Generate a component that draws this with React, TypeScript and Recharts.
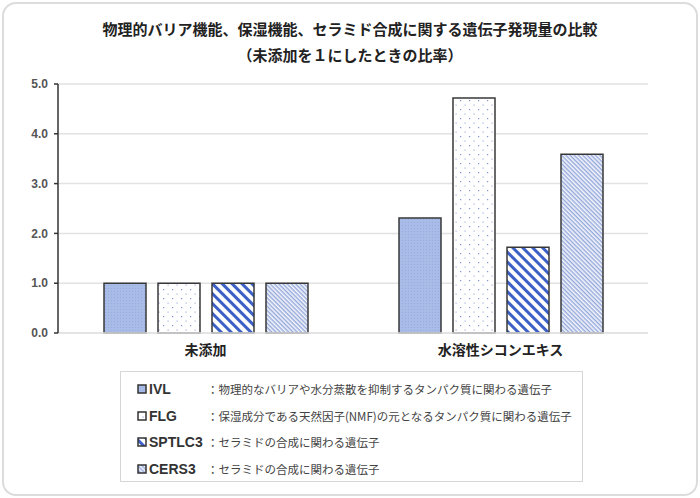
import { BarChart, Bar, XAxis, YAxis, CartesianGrid } from "recharts";

const categories = ["未添加", "水溶性シコンエキス"];
const genes = ["IVL", "FLG", "SPTLC3", "CERS3"];
const ivlValues = [1.0, 2.31];
const flgValues = [1.0, 4.72];
const sptlc3Values = [1.0, 1.72];
const cers3Values = [1.0, 3.59];
const descriptions = [
  "物理的なバリアや水分蒸散を抑制するタンパク質に関わる遺伝子",
  "保湿成分である天然因子(NMF)の元となるタンパク質に関わる遺伝子",
  "セラミドの合成に関わる遺伝子",
  "セラミドの合成に関わる遺伝子",
];
const yTicks = [0, 1, 2, 3, 4, 5];

const patternIds = ["pat-ivl", "pat-flg", "pat-sptlc3", "pat-cers3"];

const chartData = categories.map((name, i) => ({
  name,
  IVL: ivlValues[i],
  FLG: flgValues[i],
  SPTLC3: sptlc3Values[i],
  CERS3: cers3Values[i],
}));

const FONT = '"Noto Sans CJK JP", "Noto Sans", sans-serif';

function Patterns() {
  return (
    <defs>
      <pattern id="pat-ivl" width="3" height="3" patternUnits="userSpaceOnUse">
        <rect width="3" height="3" fill="#a9bce7" />
        <rect x="0" y="0" width="1" height="1" fill="#98addf" />
      </pattern>
      <pattern id="pat-flg" width="9" height="9" patternUnits="userSpaceOnUse">
        <rect width="9" height="9" fill="#ffffff" />
        <rect x="1" y="1" width="1.2" height="1.2" fill="#7f95d4" />
        <rect x="5.5" y="5.5" width="1.2" height="1.2" fill="#a3b2dd" />
      </pattern>
      <pattern
        id="pat-sptlc3"
        width="7"
        height="7"
        patternUnits="userSpaceOnUse"
        patternTransform="rotate(45)"
      >
        <rect width="7" height="7" fill="#ffffff" />
        <rect x="0" y="0" width="7" height="3" fill="#3c60c6" />
      </pattern>
      <pattern
        id="pat-cers3"
        width="3"
        height="3"
        patternUnits="userSpaceOnUse"
        patternTransform="rotate(45)"
      >
        <rect width="3" height="3" fill="#f4f6fb" />
        <rect x="0" y="0" width="3" height="1.4" fill="#94a8dc" />
      </pattern>
    </defs>
  );
}

export default function App() {
  return (
    <div
      style={{
        position: "absolute",
        left: 0,
        top: 0,
        width: 700,
        height: 498,
        background: "#ffffff",
        fontFamily: FONT,
      }}
    >
      {/* card border */}
      <div
        style={{
          position: "absolute",
          left: 2,
          top: 2,
          width: 692,
          height: 490,
          border: "2px solid #dcdcdc",
          borderRadius: 14,
        }}
      />
      <div
        style={{
          position: "absolute",
          left: 0,
          top: 16,
          width: 700,
          textAlign: "center",
          fontSize: 15,
          fontWeight: 700,
          color: "#222",
          lineHeight: "26px",
        }}
      >
        <div>物理的バリア機能、保湿機能、セラミド合成に関する遺伝子発現量の比較</div>
        <div>（未添加を１にしたときの比率）</div>
      </div>

      <div style={{ position: "absolute", left: 0, top: 0 }}>
        <BarChart
          width={700}
          height={498}
          data={chartData}
          margin={{ top: 84, right: 52, bottom: 135, left: 0 }}
          barCategoryGap={46}
          barGap={12}
        >
          <Patterns />
          <CartesianGrid vertical={false} stroke="#e2e2e2" strokeWidth={1.5} />
          <XAxis
            dataKey="name"
            height={30}
            axisLine={{ stroke: "#e2e2e2", strokeWidth: 1.5 }}
            tickLine={false}
            tickMargin={6}
            tick={{ fontSize: 14, fontWeight: 700, fill: "#222", fontFamily: FONT }}
          />
          <YAxis
            width={58}
            domain={[0, 5]}
            ticks={yTicks}
            interval={0}
            tickFormatter={(v: number) => v.toFixed(1)}
            axisLine={{ stroke: "#333", strokeWidth: 1.5 }}
            tickLine={{ stroke: "#333", strokeWidth: 1.5 }}
            tickSize={4}
            tickMargin={6}
            tick={{ fontSize: 12, fontWeight: 700, fill: "#555", fontFamily: "Liberation Sans, Arial, sans-serif" }}
          />
          {genes.map((g, i) => (
            <Bar
              key={g}
              dataKey={g}
              fill={`url(#${patternIds[i]})`}
              stroke="#383838"
              strokeWidth={1.5}
              isAnimationActive={false}
            />
          ))}
        </BarChart>
      </div>

      {/* legend */}
      <div
        style={{
          position: "absolute",
          left: 120,
          top: 371,
          width: 461,
          height: 109,
          border: "1.5px solid #d6d6d6",
          background: "#fff",
        }}
      >
        {genes.map((g, i) => (
          <div
            key={g}
            style={{
              position: "absolute",
              left: 16,
              top: 5 + i * 26.5,
              height: 24,
              display: "flex",
              alignItems: "center",
              whiteSpace: "nowrap",
            }}
          >
            <svg width={10} height={10} style={{ marginRight: 2 }}>
              <Patterns />
              <rect
                x={1}
                y={1}
                width={8}
                height={8}
                fill={`url(#${patternIds[i]})`}
                stroke="#333"
                strokeWidth={1.5}
              />
            </svg>
            <span
              style={{
                display: "inline-block",
                width: 58,
                fontSize: 14,
                fontWeight: 700,
                color: "#333",
                fontFamily: "Liberation Sans, Arial, sans-serif",
              }}
            >
              {g}
            </span>
            <span style={{ fontSize: 11.5, color: "#444" }}>：{descriptions[i]}</span>
          </div>
        ))}
      </div>
    </div>
  );
}
